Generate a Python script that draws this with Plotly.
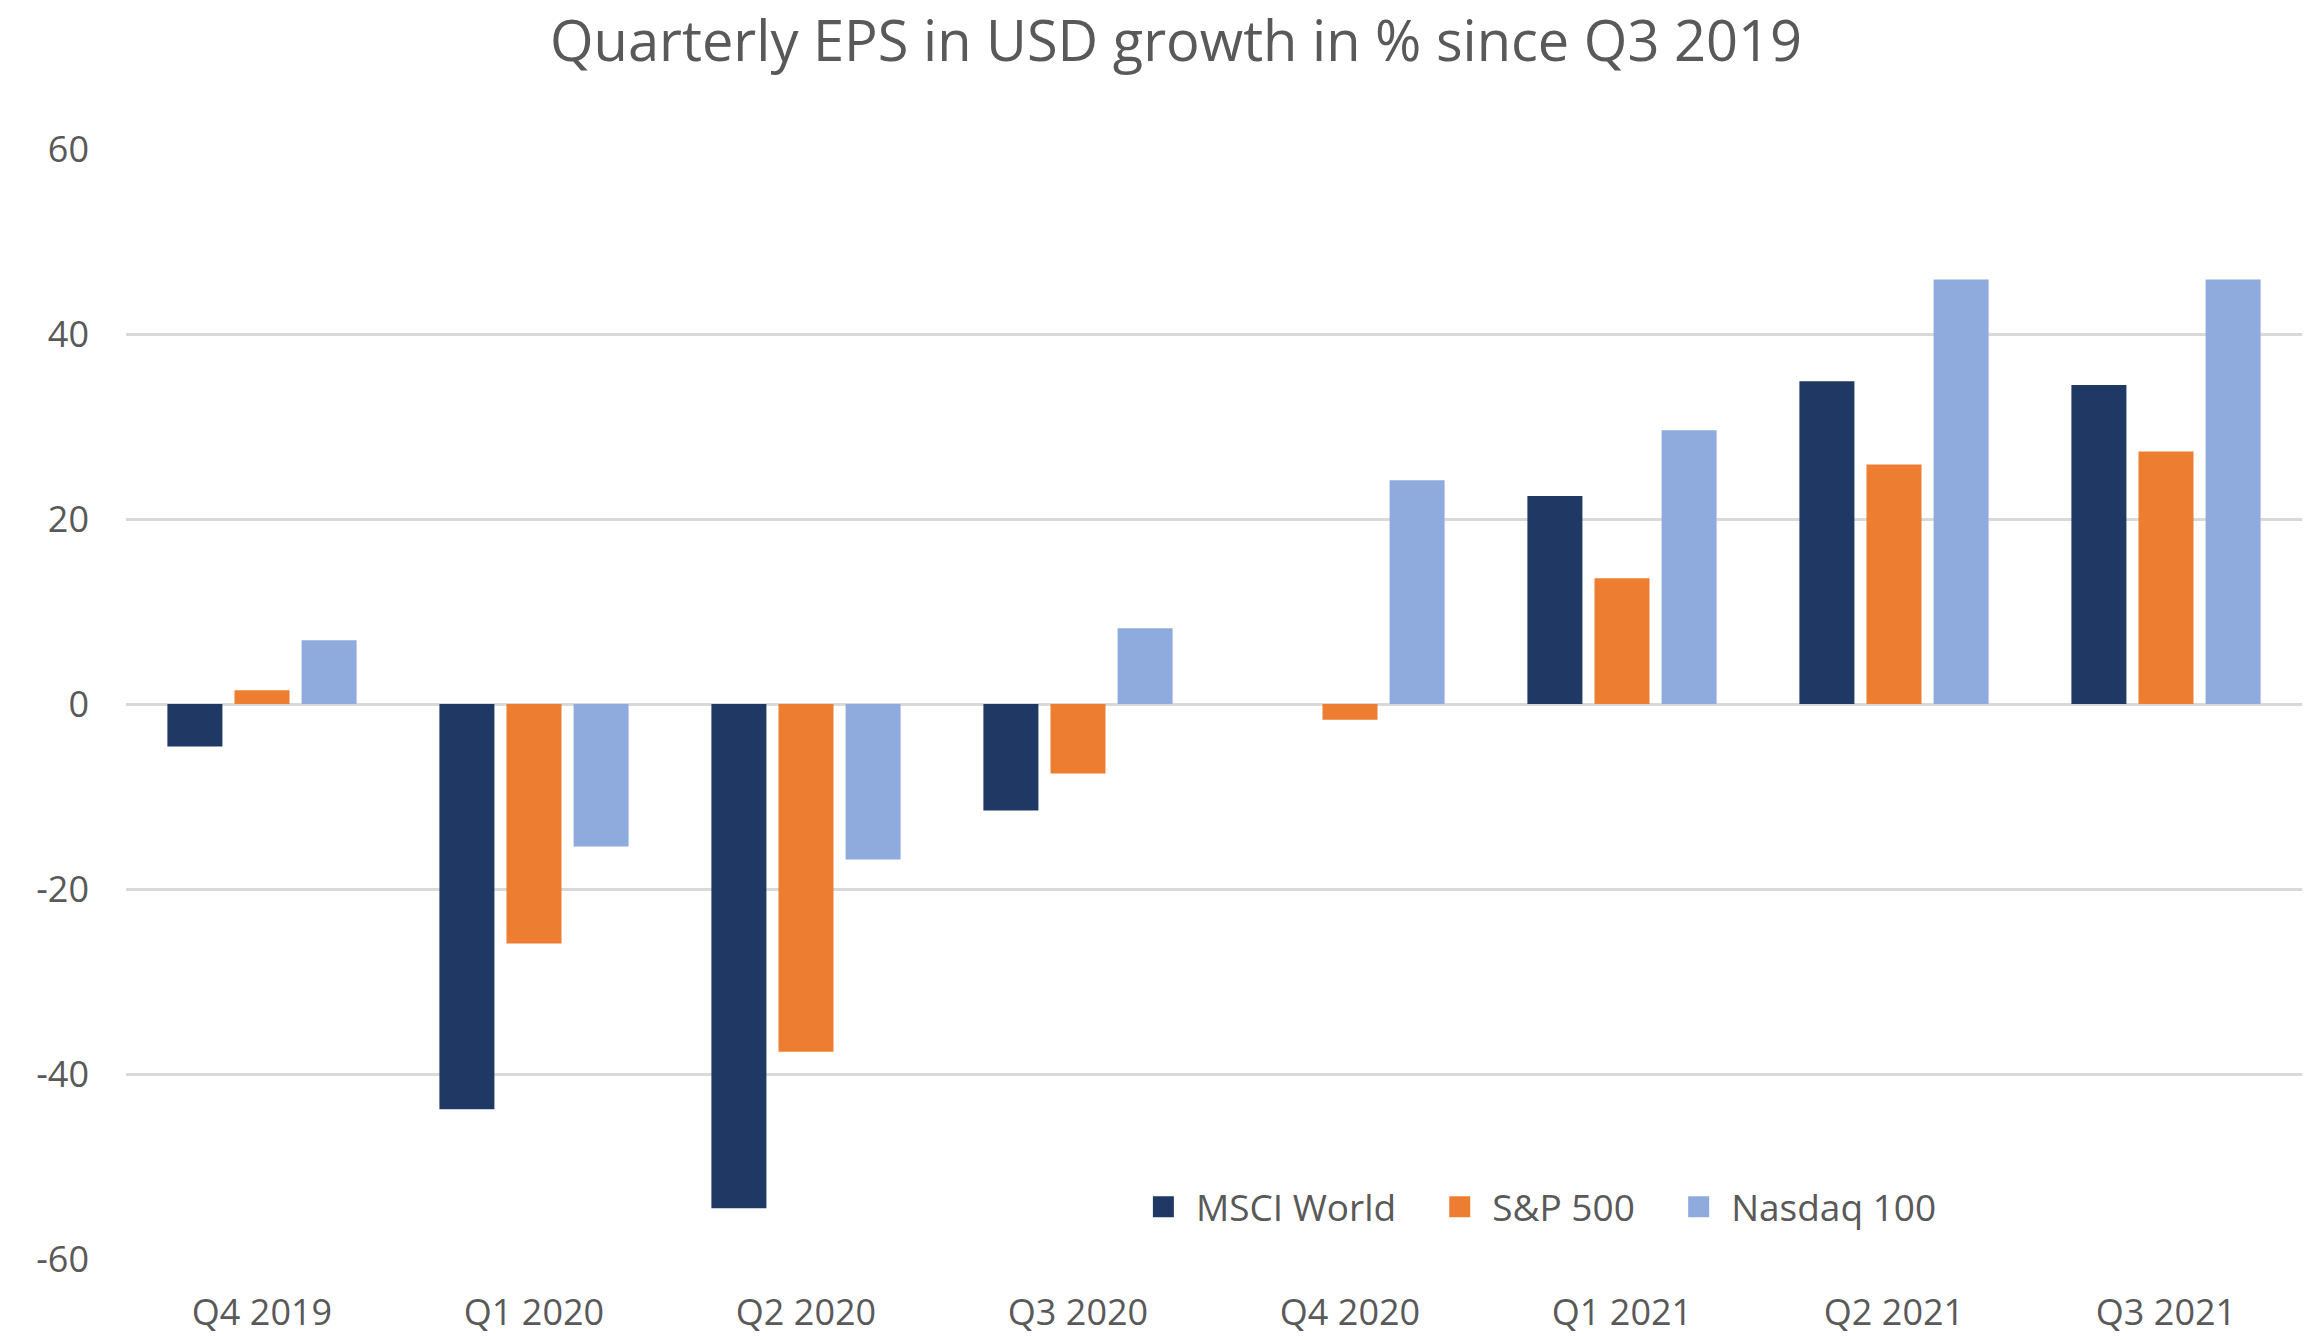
import plotly.graph_objects as go

quarters = ["Q4 2019", "Q1 2020", "Q2 2020", "Q3 2020", "Q4 2020", "Q1 2021", "Q2 2021", "Q3 2021"]
msci_world = [-4.6, -43.8, -54.5, -11.5, 0.0, 22.5, 34.9, 34.5]
sp500 = [1.5, -25.9, -37.6, -7.5, -1.7, 13.6, 25.9, 27.3]
nasdaq100 = [6.9, -15.4, -16.8, 8.2, 24.2, 29.6, 45.9, 45.9]
y_tick_vals = [-60, -40, -20, 0, 20, 40, 60]
y_tick_text = ["-60", "-40", "-20", "0", "20", "40", "60"]

series = [
    ("MSCI World", msci_world, "#203864", "legend"),
    ("S&P 500", sp500, "#ED7D31", "legend2"),
    ("Nasdaq 100", nasdaq100, "#8FAADC", "legend3"),
]

fig = go.Figure()
for name, vals, color, leg in series:
    fig.add_trace(go.Bar(x=quarters, y=vals, name=name, showlegend=False,
                         marker=dict(color=color, line=dict(width=0))))
for name, vals, color, leg in series:
    # legend-only entry (square symbol)
    fig.add_trace(go.Scatter(x=[None], y=[None], name=name, mode="markers", legend=leg,
                             marker=dict(symbol="square", size=16, color=color,
                                         line=dict(width=5, color=color))))

font_color = "#595959"
leg_common = dict(orientation="h", xanchor="left", y=0.0466, yanchor="middle",
                  font=dict(size=37, color=font_color), bgcolor="rgba(0,0,0,0)",
                  itemclick=False, itemdoubleclick=False, itemwidth=55, itemsizing="trace")

fig.update_layout(
    width=2306,
    height=1340,
    paper_bgcolor="white",
    plot_bgcolor="white",
    font=dict(family="Open Sans", color=font_color, size=36),
    title=dict(text="Quarterly EPS in USD growth in % since Q3 2019", x=0.51, xanchor="center",
               y=1 - 41 / 1340, yanchor="middle",
               font=dict(size=56, color=font_color)),
    barmode="group",
    bargap=0.26,
    bargroupgap=0.18,
    margin=dict(l=126, r=4, t=149, b=76),
    showlegend=True,
    legend=dict(x=0.4618, **leg_common),
    legend2=dict(x=0.5980, **leg_common),
    legend3=dict(x=0.7078, **leg_common),
    xaxis=dict(showgrid=False, showline=False, ticks="", ticklabelstandoff=29,
               tickfont=dict(size=36, color=font_color)),
    yaxis=dict(range=[-60, 60], tickvals=y_tick_vals, ticktext=y_tick_text, showgrid=True,
               gridcolor="#d9d9d9", gridwidth=3, zeroline=False, showline=False, ticks="",
               ticklabelstandoff=36, tickfont=dict(size=36, color=font_color)),
)

fig.write_html("out.html")
